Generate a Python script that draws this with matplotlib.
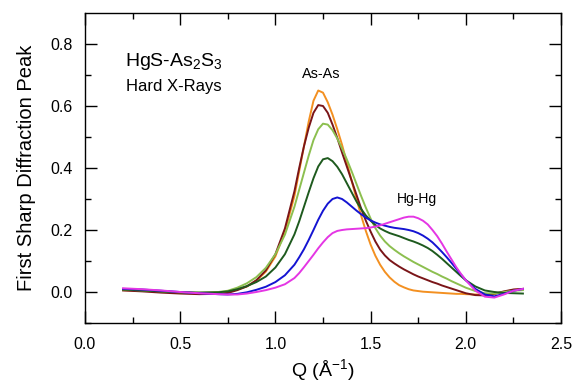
import numpy as np
import matplotlib
matplotlib.use("Agg")
import matplotlib.pyplot as plt
from matplotlib.ticker import FormatStrFormatter

plt.rcParams['font.family'] = ['Liberation Sans', 'DejaVu Sans']
plt.rcParams['mathtext.fontset'] = 'custom'
plt.rcParams['mathtext.rm'] = 'Liberation Sans'

# Q grid (1/A)
q = [0.2, 0.3, 0.4, 0.5, 0.6, 0.7, 0.75, 0.8, 0.85, 0.9, 0.95, 1.0, 1.05,
     1.1, 1.125, 1.15, 1.175, 1.2, 1.225, 1.25, 1.275, 1.3, 1.325, 1.35, 1.375,
     1.4, 1.425, 1.45, 1.475, 1.5, 1.525, 1.55, 1.575, 1.6, 1.625, 1.65, 1.675,
     1.7, 1.725, 1.75, 1.775, 1.8, 1.825, 1.85, 1.875, 1.9, 1.925, 1.95, 1.975,
     2.0, 2.05, 2.1, 2.15, 2.2, 2.25, 2.3]

orange = [0.006, 0.004, 0.001, -0.002, -0.003, -0.002, 0.0, 0.008, 0.018, 0.036, 0.066, 0.115, 0.195,
          0.31, 0.39, 0.47, 0.55, 0.617, 0.65, 0.643, 0.612, 0.572, 0.525, 0.475, 0.418,
          0.36, 0.302, 0.247, 0.197, 0.153, 0.117, 0.088, 0.065, 0.047, 0.033, 0.022, 0.015,
          0.009, 0.005, 0.003, 0.001, 0.0, -0.001, -0.002, -0.003, -0.004, -0.005, -0.006, -0.006,
          -0.007, -0.008, -0.008, -0.006, 0.0, 0.007, 0.01]
maroon = [0.005, 0.002, -0.002, -0.005, -0.007, -0.006, -0.003, 0.006, 0.018, 0.038, 0.07, 0.122, 0.205,
          0.325, 0.4, 0.47, 0.53, 0.578, 0.603, 0.6, 0.578, 0.54, 0.497, 0.45, 0.405,
          0.36, 0.315, 0.27, 0.23, 0.195, 0.163, 0.137, 0.118, 0.103, 0.092, 0.082, 0.073,
          0.065, 0.057, 0.05, 0.044, 0.038, 0.032, 0.027, 0.021, 0.016, 0.011, 0.006, 0.001,
          -0.004, -0.01, -0.011, -0.006, 0.002, 0.008, 0.01]
ltgreen = [0.008, 0.005, 0.002, -0.001, -0.002, 0.0, 0.004, 0.014, 0.028, 0.048, 0.078, 0.122, 0.185,
           0.275, 0.33, 0.385, 0.44, 0.49, 0.525, 0.543, 0.54, 0.522, 0.495, 0.463, 0.428,
           0.39, 0.35, 0.31, 0.272, 0.237, 0.206, 0.182, 0.163, 0.148, 0.136, 0.125, 0.115,
           0.106, 0.097, 0.089, 0.081, 0.073, 0.065, 0.058, 0.05, 0.043, 0.035, 0.028, 0.021,
           0.014, 0.003, -0.004, -0.005, 0.0, 0.004, 0.006]
dkgreen = [0.008, 0.005, 0.002, -0.001, -0.002, -0.001, 0.002, 0.009, 0.019, 0.032, 0.05, 0.079, 0.122,
           0.186, 0.228, 0.275, 0.322, 0.367, 0.405, 0.428, 0.432, 0.422, 0.404, 0.38, 0.351,
           0.322, 0.293, 0.268, 0.247, 0.23, 0.216, 0.205, 0.197, 0.19, 0.185, 0.18, 0.174,
           0.168, 0.163, 0.157, 0.15, 0.142, 0.132, 0.12, 0.107, 0.093, 0.079, 0.065, 0.051,
           0.038, 0.018, 0.005, 0.0, -0.003, -0.004, -0.005]
blue = [0.01, 0.008, 0.004, 0.0, -0.004, -0.007, -0.008, -0.006, -0.001, 0.007, 0.017, 0.032, 0.054,
        0.088, 0.112, 0.138, 0.168, 0.2, 0.233, 0.262, 0.285, 0.3, 0.305, 0.3, 0.289,
        0.276, 0.263, 0.251, 0.24, 0.231, 0.224, 0.218, 0.214, 0.21, 0.207, 0.205, 0.203,
        0.2, 0.196, 0.19, 0.182, 0.172, 0.16, 0.145, 0.129, 0.112, 0.094, 0.075, 0.056,
        0.038, 0.01, -0.008, -0.014, -0.006, 0.004, 0.01]
magenta = [0.012, 0.009, 0.005, 0.0, -0.004, -0.007, -0.008, -0.008, -0.005, 0.0, 0.006, 0.014, 0.025,
           0.045, 0.061, 0.08, 0.1, 0.12, 0.141, 0.16, 0.177, 0.19, 0.197, 0.2, 0.202,
           0.203, 0.204, 0.205, 0.206, 0.208, 0.211, 0.215, 0.22, 0.225, 0.23, 0.235, 0.24,
           0.243, 0.243, 0.238, 0.23, 0.218, 0.2, 0.18, 0.156, 0.13, 0.105, 0.08, 0.058,
           0.038, 0.005, -0.015, -0.018, -0.008, 0.004, 0.01]

series = [
    (orange, '#F39021'),
    (maroon, '#7A1518'),
    (ltgreen, '#8CBF4F'),
    (dkgreen, '#1E5A1E'),
    (blue, '#1414D2'),
    (magenta, '#E436E4'),
]

fig = plt.figure(figsize=(5.8, 3.87), dpi=100)
# frame: x 85..561 px, y 13..323 px
ax = fig.add_axes([85 / 580, 1 - 323 / 387, 476 / 580, 310 / 387])

for ys, c in series:
    ax.plot(q, ys, color=c, lw=1.4, solid_joinstyle='round')

ax.set_xlim(0, 2.5)
ax.set_ylim(-0.1, 0.9)
ax.set_xticks(np.arange(0, 2.51, 0.5))
ax.set_xticks(np.arange(0.25, 2.5, 0.5), minor=True)
ax.set_yticks(np.arange(0, 0.81, 0.2))
ax.set_yticks(np.arange(-0.1, 0.9, 0.2), minor=True)
ax.xaxis.set_major_formatter(FormatStrFormatter('%.1f'))
ax.yaxis.set_major_formatter(FormatStrFormatter('%.1f'))
ax.tick_params(which='both', direction='in', top=True, right=True, width=1.0, labelsize=11.5)
ax.tick_params(which='major', length=8.5)
ax.tick_params(which='minor', length=4.3)
ax.tick_params(axis='x', pad=10)
ax.tick_params(axis='y', pad=9)
for s in ax.spines.values():
    s.set_linewidth(1.0)

ax.set_xlabel('Q (Å$^{\\mathregular{-1}}$)', fontsize=14, labelpad=4)
ax.set_ylabel('First Sharp Diffraction Peak', fontsize=14.5, labelpad=10)

ax.text(0.21, 0.73, 'HgS-As$_\\mathregular{2}$S$_\\mathregular{3}$', fontsize=14, va='baseline')
ax.text(0.215, 0.648, 'Hard X-Rays', fontsize=12, va='baseline')
ax.text(1.24, 0.69, 'As-As', fontsize=10.4, ha='center', va='baseline')
ax.text(1.744, 0.287, 'Hg-Hg', fontsize=10, ha='center', va='baseline')

fig.savefig('out.png', dpi=100)
